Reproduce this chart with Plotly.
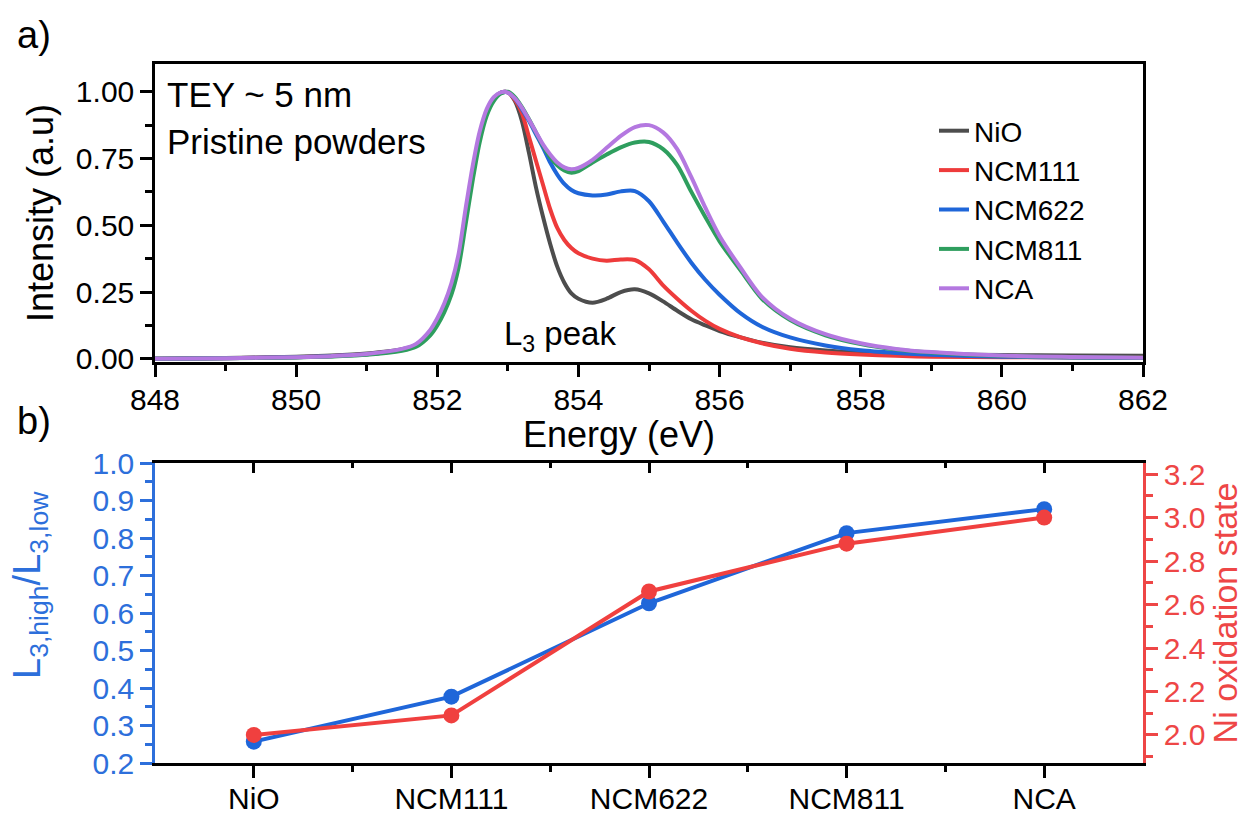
import plotly.graph_objects as go

# ---------------- data: panel a (Ni L3 XAS, TEY) ----------------
energy = [848.0, 849.0, 850.0, 850.5, 851.0, 851.5, 851.7, 851.9,
          852.0, 852.1, 852.2, 852.3, 852.4, 852.5, 852.6, 852.7, 852.8, 852.9,
          853.0, 853.1, 853.2, 853.3, 853.4, 853.5, 853.6, 853.7, 853.8, 853.9,
          854.0, 854.2, 854.4, 854.6, 854.8,
          855.0, 855.2, 855.4, 855.6, 855.8,
          856.0, 856.3, 856.6, 857.0, 857.5, 858.0, 858.5,
          859.0, 860.0, 861.0, 862.0]

nio = [0.0, 0.003, 0.008, 0.012, 0.020, 0.036, 0.052, 0.100,
       0.140, 0.195, 0.265, 0.370, 0.540, 0.700, 0.835, 0.925, 0.975, 0.997,
       0.998, 0.965, 0.890, 0.770, 0.640, 0.530, 0.430, 0.345, 0.285, 0.245,
       0.225, 0.210, 0.225, 0.250, 0.260,
       0.245, 0.215, 0.180, 0.148, 0.125,
       0.104, 0.080, 0.060, 0.043, 0.031, 0.023, 0.019,
       0.016, 0.014, 0.012, 0.011]

ncm111 = [0.0, 0.002, 0.006, 0.010, 0.017, 0.034, 0.050, 0.098,
          0.138, 0.190, 0.260, 0.365, 0.535, 0.695, 0.830, 0.922, 0.973, 0.996,
          0.998, 0.970, 0.920, 0.830, 0.740, 0.650, 0.560, 0.490, 0.445, 0.415,
          0.395, 0.375, 0.367, 0.372, 0.370,
          0.335, 0.275, 0.225, 0.180, 0.142,
          0.112, 0.080, 0.058, 0.038, 0.024, 0.016, 0.011,
          0.008, 0.006, 0.005, 0.004]

ncm622 = [0.0, 0.002, 0.006, 0.010, 0.017, 0.034, 0.050, 0.097,
          0.137, 0.190, 0.260, 0.365, 0.535, 0.695, 0.830, 0.922, 0.973, 0.996,
          0.998, 0.975, 0.935, 0.890, 0.840, 0.790, 0.735, 0.690, 0.655, 0.632,
          0.620, 0.612, 0.615, 0.627, 0.628,
          0.590, 0.515, 0.435, 0.360, 0.295,
          0.240, 0.170, 0.120, 0.080, 0.050, 0.032, 0.022,
          0.015, 0.008, 0.005, 0.003]

ncm811 = [0.0, 0.002, 0.005, 0.009, 0.015, 0.030, 0.045, 0.088,
          0.125, 0.175, 0.240, 0.340, 0.500, 0.665, 0.810, 0.910, 0.965, 0.993,
          1.000, 0.980, 0.943, 0.897, 0.847, 0.797, 0.755, 0.725, 0.705, 0.697,
          0.703, 0.735, 0.765, 0.792, 0.810,
          0.812, 0.785, 0.725, 0.625, 0.530,
          0.440, 0.330, 0.225, 0.145, 0.088, 0.055, 0.035,
          0.024, 0.011, 0.006, 0.004]

nca = [0.0, 0.002, 0.006, 0.010, 0.018, 0.037, 0.056, 0.108,
       0.152, 0.208, 0.283, 0.390, 0.560, 0.720, 0.850, 0.935, 0.980, 0.998,
       0.997, 0.975, 0.940, 0.895, 0.848, 0.802, 0.765, 0.735, 0.717, 0.710,
       0.715, 0.745, 0.790, 0.835, 0.868,
       0.875, 0.848, 0.785, 0.680, 0.565,
       0.460, 0.340, 0.232, 0.150, 0.092, 0.058, 0.037,
       0.025, 0.012, 0.007, 0.004]

series_names = ["NiO", "NCM111", "NCM622", "NCM811", "NCA"]
series_values = [nio, ncm111, ncm622, ncm811, nca]
series_colors = ["#4D4D4D", "#EE3B3B", "#1F66D9", "#2E9E5E", "#B478E0"]

# ---------------- data: panel b ----------------
samples = ["NiO", "NCM111", "NCM622", "NCM811", "NCA"]
l3_ratio = [0.257, 0.377, 0.626, 0.813, 0.877]
ni_oxidation = [2.00, 2.09, 2.66, 2.88, 3.00]
sample_pos = [0, 1, 2, 3, 4]

BLUE = "#1F66D9"
RED = "#F0403F"
BLUE_AX = "#2D6FDB"
RED_AX = "#EE4646"
FONT = "Liberation Sans, Arial, sans-serif"

fig = go.Figure()

for name, vals, col in zip(series_names, series_values, series_colors):
    fig.add_trace(go.Scatter(
        x=energy, y=vals, name=name, mode="lines",
        line=dict(color=col, width=4, shape="spline", smoothing=0.8),
        xaxis="x", yaxis="y", showlegend=True))

fig.add_trace(go.Scatter(
    x=sample_pos, y=l3_ratio, mode="lines+markers", name="L3 ratio",
    line=dict(color=BLUE, width=4), marker=dict(color=BLUE, size=16),
    xaxis="x2", yaxis="y2", showlegend=False))
fig.add_trace(go.Scatter(
    x=sample_pos, y=ni_oxidation, mode="lines+markers", name="Ni oxidation state",
    line=dict(color=RED, width=4), marker=dict(color=RED, size=16),
    xaxis="x2", yaxis="y3", showlegend=False))
# invisible helper trace so the top (inward-tick) axis of panel b is drawn
fig.add_trace(go.Scatter(x=[None], y=[None], xaxis="x3", yaxis="y2",
                         showlegend=False, hoverinfo="skip"))

W, H = 1244, 815
xd = [155 / W, 1143 / W]
ya = [1 - 362 / H, 1 - 64 / H]
yb = [1 - 763 / H, 1 - 463 / H]

tickfont = dict(family=FONT, size=30, color="black")

fig.update_layout(
    template="none",
    width=W, height=H,
    margin=dict(l=0, r=0, t=0, b=0, autoexpand=False),
    paper_bgcolor="white", plot_bgcolor="white",
    font=dict(family=FONT, size=30, color="black"),
    showlegend=True,
    legend=dict(x=934 / W, y=1 - 106 / H, xanchor="left", yanchor="top",
                bgcolor="rgba(0,0,0,0)", font=dict(family=FONT, size=28),
                tracegroupgap=0, itemwidth=30, borderwidth=0),
    xaxis=dict(domain=xd, anchor="y", range=[848, 862], automargin=False,
               tickmode="linear", tick0=848, dtick=2,
               ticks="outside", ticklen=12, tickwidth=2.5, tickcolor="black",
               minor=dict(dtick=1, tick0=848, ticks="outside", ticklen=6,
                          tickwidth=2.5, tickcolor="black", showgrid=False),
               showline=True, linewidth=2.5, linecolor="black", mirror=True,
               showgrid=False, zeroline=False, tickfont=tickfont,
               ticklabelstandoff=-3),
    yaxis=dict(domain=ya, anchor="x", range=[-0.012, 1.104], automargin=False,
               tickmode="array", tickvals=[0, 0.25, 0.5, 0.75, 1.0],
               ticktext=["0.00", "0.25", "0.50", "0.75", "1.00"],
               ticks="outside", ticklen=12, tickwidth=2.5, tickcolor="black",
               minor=dict(tickvals=[0.125, 0.375, 0.625, 0.875], ticks="outside",
                          ticklen=7, tickwidth=2.5, tickcolor="black", showgrid=False),
               showline=True, linewidth=2.5, linecolor="black", mirror=True,
               showgrid=False, zeroline=False, tickfont=tickfont,
               title=dict(text="Intensity (a.u)", font=dict(family=FONT, size=36),
                          standoff=12)),
    xaxis2=dict(domain=xd, anchor="y2", range=[-0.5, 4.5], automargin=False,
                tickmode="array", tickvals=sample_pos, ticktext=samples,
                ticks="outside", ticklen=12, tickwidth=2.5, tickcolor="black",
                minor=dict(tickvals=[0.5, 1.5, 2.5, 3.5], ticks="outside",
                           ticklen=6, tickwidth=2.5, tickcolor="black", showgrid=False),
                showline=True, linewidth=2.5, linecolor="black", mirror=True,
                showgrid=False, zeroline=False, tickfont=tickfont,
                ticklabelstandoff=-5),
    xaxis3=dict(overlaying="x2", anchor="y2", side="top", range=[-0.5, 4.5],
                automargin=False,
                tickmode="array", tickvals=sample_pos, showticklabels=False,
                ticks="inside", ticklen=10, tickwidth=2.5, tickcolor="black",
                minor=dict(tickvals=[0.5, 1.5, 2.5, 3.5], ticks="inside",
                           ticklen=5, tickwidth=2.5, tickcolor="black", showgrid=False),
                showline=False, showgrid=False, zeroline=False),
    yaxis2=dict(domain=yb, anchor="x2", range=[0.2, 1.0], automargin=False,
                tickmode="linear", tick0=0.2, dtick=0.1, tickformat=".1f",
                ticks="outside", ticklen=12, tickwidth=2.5, tickcolor=BLUE_AX,
                minor=dict(dtick=0.05, tick0=0.2, ticks="outside", ticklen=7,
                           tickwidth=2.5, tickcolor=BLUE_AX, showgrid=False),
                showline=True, linewidth=2.5, linecolor=BLUE_AX, mirror=False,
                showgrid=False, zeroline=False,
                tickfont=dict(family=FONT, size=30, color=BLUE_AX)),
    yaxis3=dict(overlaying="y2", anchor="x2", side="right", range=[1.871, 3.251],
                automargin=False,
                tickmode="linear", tick0=2.0, dtick=0.2, tickformat=".1f",
                ticks="outside", ticklen=12, tickwidth=2.5, tickcolor=RED_AX,
                minor=dict(dtick=0.1, tick0=2.0, ticks="outside", ticklen=7,
                           tickwidth=2.5, tickcolor=RED_AX, showgrid=False),
                showline=True, linewidth=2.5, linecolor=RED_AX,
                showgrid=False, zeroline=False,
                tickfont=dict(family=FONT, size=30, color=RED_AX),
                title=dict(text="Ni oxidation state",
                           font=dict(family=FONT, size=34, color=RED_AX),
                           standoff=10)),
)

annos = [
    dict(text="a)", x=15 / W, y=1 - 35 / H, xanchor="left", yanchor="middle",
         font=dict(family=FONT, size=38, color="black")),
    dict(text="b)", x=15 / W, y=1 - 421 / H, xanchor="left", yanchor="middle",
         font=dict(family=FONT, size=38, color="black")),
    dict(text="TEY ~ 5 nm", x=165 / W, y=1 - 94 / H, xanchor="left", yanchor="middle",
         font=dict(family=FONT, size=35, color="black")),
    dict(text="Pristine powders", x=165 / W, y=1 - 141 / H, xanchor="left",
         yanchor="middle", font=dict(family=FONT, size=35, color="black")),
    dict(text="L<sub>3</sub> peak", x=560 / W, y=1 - 336 / H, xanchor="center",
         yanchor="middle", font=dict(family=FONT, size=33, color="black")),
    # axis titles placed as in the reference
    dict(text="Energy (eV)", x=619 / W, y=1 - 434 / H, xanchor="center",
         yanchor="middle", font=dict(family=FONT, size=36, color="black")),
    dict(text="L<sub>3,high</sub>/L<sub>3,low</sub>", x=30 / W, y=1 - 585 / H,
         xanchor="center", yanchor="middle", textangle=-90,
         font=dict(family=FONT, size=38, color=BLUE_AX)),
]
for a in annos:
    fig.add_annotation(xref="paper", yref="paper", showarrow=False, **a)

fig.write_html("out.html")
